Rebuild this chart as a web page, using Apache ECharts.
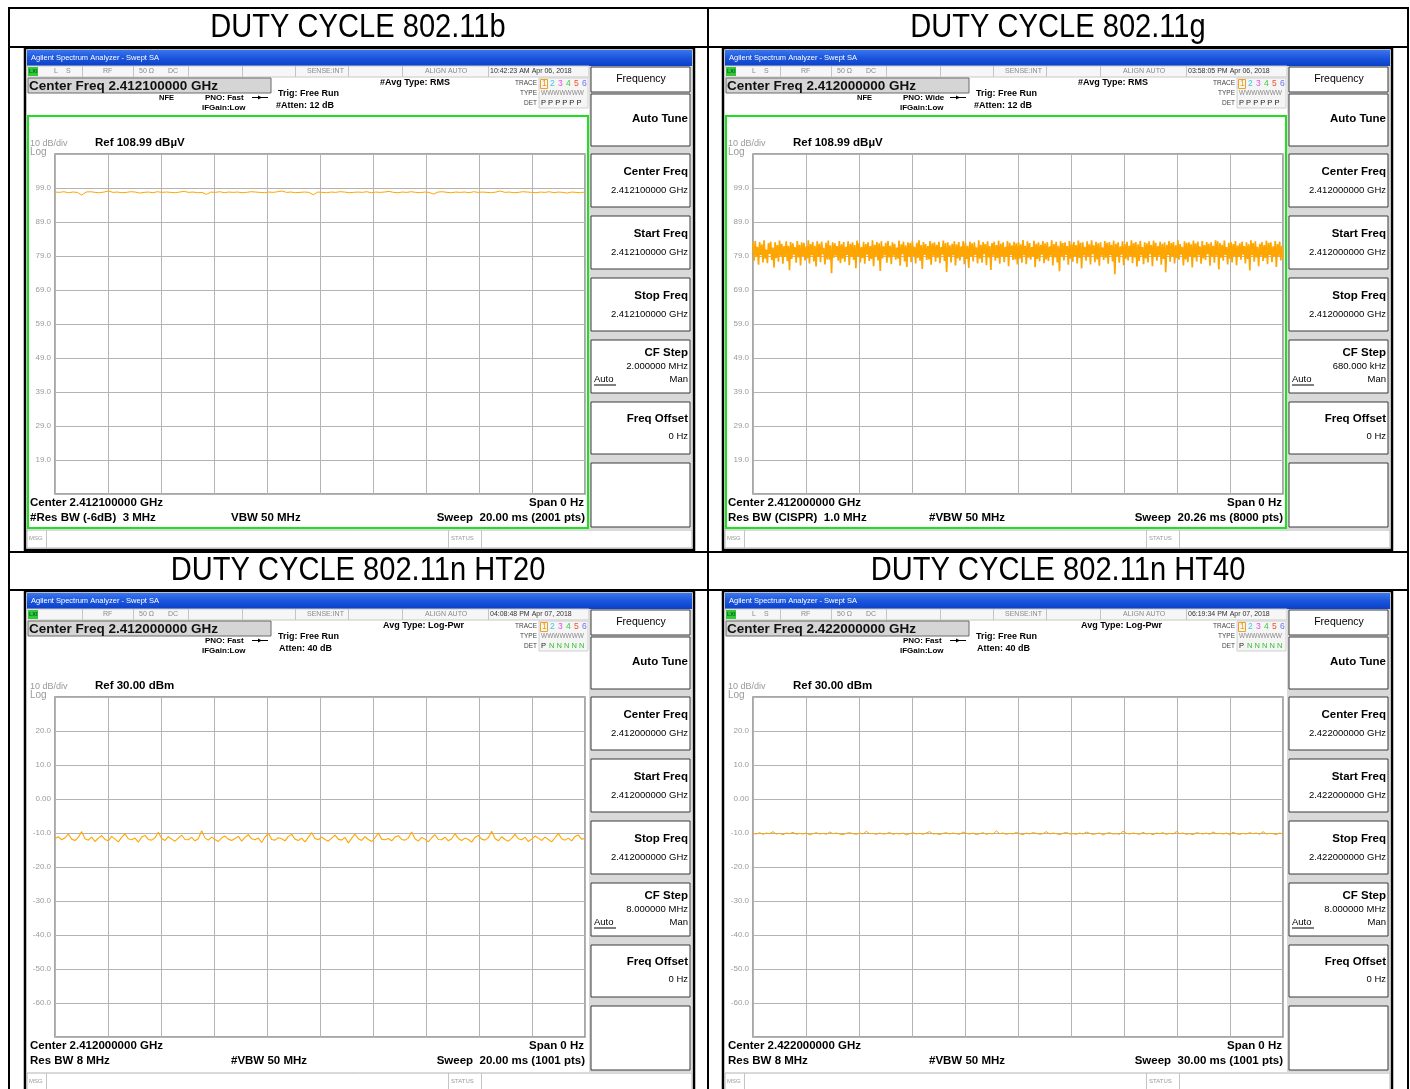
<!DOCTYPE html>
<html>
<head>
<meta charset="utf-8">
<script src="https://cdn.jsdelivr.net/npm/echarts@6/dist/echarts.min.js"></script>
<style>
html,body{margin:0;padding:0;background:#fff}
#c{width:1410px;height:1089px}
</style>
</head>
<body>
<div id="c"></div>
<script>
// ---- captured zero-span traces (dBµV for 11b/11g, dBm for HT20/HT40) ----
const trace11b = [97.8,97.7,97.9,97.6,97.8,97.7,96.9,97.8,97.9,97.7,97.6,97.8,98.1,97.7,97.8,97.6,97.7,97.9,97.8,97.5,
97.7,97.8,97.6,97.9,97.7,97.8,97.7,97.6,97.8,98.0,97.7,97.8,97.6,97.7,97.1,97.8,97.7,97.9,97.6,97.8,
97.7,97.8,97.6,97.7,97.9,97.8,97.7,97.6,97.8,97.7,97.9,98.1,97.7,97.8,97.6,97.7,97.8,97.7,97.0,97.8,
97.7,97.6,97.8,97.7,97.9,97.8,97.6,97.7,97.8,97.7,97.9,97.6,97.8,97.7,97.8,98.0,97.7,97.6,97.8,97.7,
97.9,97.7,97.6,97.8,97.7,97.2,97.8,97.9,97.7,97.6,97.8,97.7,97.8,97.6,97.9,97.7,97.8,97.7,97.6,97.8,
98.1,97.7,97.8,97.6,97.7,97.9,97.8,97.7,97.6,97.8,97.7,97.9,97.6,97.8,97.7,97.5,97.8,97.7,97.6,97.8];

const trace11g = [82.9,77.6,83.4,78.9,81.7,76.4,83.1,79.3,82.4,77.1,83.6,78.2,80.9,76.9,82.8,79.6,83.2,77.8,81.5,75.6,
83.0,78.4,82.2,77.3,83.5,79.1,82.6,76.7,81.9,78.8,83.3,77.5,82.0,74.8,83.1,78.1,82.7,79.4,81.6,77.0,
83.4,78.6,82.3,76.2,83.0,79.0,82.9,77.7,81.8,78.3,83.6,76.8,82.5,79.2,83.1,77.4,82.0,75.9,83.3,78.7,
82.6,77.2,83.2,79.5,81.4,76.5,82.9,78.0,83.5,77.9,82.1,73.9,83.0,78.5,82.7,79.1,81.9,77.6,83.4,76.9,
82.4,78.2,83.1,77.3,81.7,79.3,83.3,76.3,82.6,78.8,83.0,77.8,82.2,75.4,83.5,79.0,82.8,77.1,81.6,78.4,
83.2,76.7,82.5,79.4,83.0,77.5,81.9,78.1,83.6,76.0,82.3,78.9,83.1,77.7,82.7,74.6,83.3,78.3,81.8,79.2,
82.9,77.0,83.4,78.6,82.0,76.6,83.0,79.1,82.6,77.9,81.5,78.2,83.5,76.1,82.4,79.5,83.2,77.4,82.1,75.8,
83.0,78.7,82.8,77.2,83.3,79.0,81.7,76.8,82.9,78.4,83.6,77.6,82.2,75.2,83.1,79.3,82.5,77.8,81.9,78.0,
83.4,76.4,82.7,79.1,83.0,77.3,82.3,78.5,83.2,76.9,81.6,79.4,83.5,77.5,82.8,74.3,83.0,78.8,82.1,77.1,
82.6,79.2,83.3,76.2,82.4,78.3,83.1,77.7,81.8,79.0,83.4,76.6,82.9,78.1,82.0,75.5,83.2,78.9,82.7,77.4,
83.0,79.3,81.5,76.8,83.6,78.2,82.3,77.0,83.1,79.5,82.5,76.3,83.3,78.6,81.9,74.9,82.8,79.1,83.2,77.6,
82.2,78.4,83.5,76.7,82.6,79.0,83.0,77.2,81.7,78.7,83.4,76.0,82.9,79.3,82.1,77.8,83.2,78.0,82.7,76.5,
83.1,78.3,82.4,77.0,83.7,79.2,82.0,76.6,83.3,78.5,82.8,77.9,81.6,79.0,83.5,75.7,82.6,78.1,83.0,77.4,
82.3,79.4,83.4,76.9,82.7,78.0,83.1,77.5,81.8,79.1,83.6,76.2,82.5,78.6,83.2,77.1,82.0,74.5,83.3,78.9,
82.8,77.7,83.0,79.3,81.9,76.4,83.4,78.2,82.6,77.3,83.1,79.0,82.2,76.8,83.5,78.4,82.9,75.3,83.0,79.2,
81.7,77.6,83.3,78.7,82.4,76.5,83.6,79.5,82.1,77.2,83.2,78.0,82.7,76.1,83.0,79.1,81.5,77.8,83.4,78.5,
82.9,76.7,83.1,79.3,82.3,77.4,83.5,73.6,82.6,78.8,83.0,77.0,81.8,79.4,83.3,76.3,82.5,78.2,83.2,77.7,
82.0,79.0,83.6,76.9,82.8,78.6,83.1,75.9,82.4,77.5,83.4,79.2,81.6,76.6,83.0,78.3,82.7,77.1,83.3,79.5,
82.2,76.0,83.5,78.7,82.9,77.6,81.9,79.1,83.2,76.4,82.6,78.1,83.0,74.2,82.3,79.3,83.4,77.3,82.8,78.9,
83.1,76.8,82.1,78.4,83.6,77.9,82.5,79.4,81.7,76.2,83.3,78.0,82.9,77.2,83.0,79.0,82.4,75.6,83.5,78.6,
82.7,77.4,83.2,79.2,81.8,76.7,83.4,78.3,82.2,77.8,83.1,79.5,82.6,76.1,83.0,78.8,82.0,77.0,83.6,79.1,
83.3,75.0,82.8,78.5,82.3,77.6,83.5,79.3,81.6,76.5,82.9,78.2,83.1,77.1,82.5,79.0,83.4,76.3,82.1,78.7,
82.7,77.9,83.2,79.4,81.9,76.8,83.0,78.1,82.4,74.7,83.6,79.2,82.8,77.3,83.3,78.6,81.7,76.0,82.6,79.1,
83.1,77.5,82.2,78.4,83.5,76.6,82.9,79.3,83.0,77.2,81.8,78.9,83.4,75.8,82.5,79.0,83.2,77.7,82.0,78.2];

const traceHT20 = [-11.6,-11.1,-12.0,-11.4,-10.3,-11.8,-12.2,-11.3,-9.6,-11.7,-12.1,-11.2,-12.5,-11.5,-10.8,-11.9,-12.3,-11.0,-11.8,-12.6,
-11.3,-10.2,-11.7,-12.0,-11.5,-12.7,-11.2,-10.7,-11.9,-12.1,-11.4,-9.8,-11.6,-12.2,-11.1,-11.8,-12.4,-11.5,-10.6,-11.9,
-12.0,-11.3,-12.3,-11.7,-9.3,-11.5,-12.1,-11.2,-11.9,-12.5,-11.4,-10.9,-11.8,-12.2,-11.6,-11.0,-12.4,-11.3,-10.5,-11.7,
-12.0,-11.5,-12.8,-11.2,-10.1,-11.9,-12.1,-11.4,-11.7,-12.3,-11.0,-10.4,-11.8,-12.2,-11.5,-12.6,-11.3,-9.9,-11.6,-12.0,
-11.2,-11.9,-12.4,-11.5,-10.6,-11.8,-12.1,-11.3,-12.9,-11.6,-10.3,-11.7,-12.2,-11.1,-11.9,-12.5,-11.4,-10.0,-11.8,-12.0,
-11.6,-12.3,-11.2,-10.8,-11.9,-12.1,-11.5,-9.7,-11.7,-12.4,-11.3,-11.8,-12.6,-11.4,-10.5,-11.9,-12.0,-11.2,-12.3,-11.7,
-10.2,-11.6,-12.2,-11.5,-11.9,-12.7,-11.3,-10.7,-11.8,-12.1,-11.4,-9.5,-11.6,-12.3,-11.1,-11.9,-12.4,-11.6,-10.4,-11.7,
-12.0,-11.3,-12.5,-11.8,-10.9,-11.5,-12.2,-11.2,-11.9,-12.6,-11.4,-10.1,-11.7,-12.1,-11.5,-12.3,-11.0,-10.6,-11.8,-11.6];

const traceHT40 = [-10.1,-10.3,-9.9,-10.4,-10.0,-10.2,-9.6,-10.3,-10.1,-10.5,-10.0,-10.2,-9.8,-10.4,-10.1,-10.3,-10.0,-10.6,-10.2,-9.9,
-10.3,-10.1,-10.4,-9.7,-10.2,-10.0,-10.3,-10.5,-10.1,-9.9,-10.2,-10.4,-10.0,-10.3,-9.5,-10.2,-10.1,-10.4,-10.0,-10.3,
-10.2,-9.8,-10.4,-10.1,-10.3,-10.0,-10.6,-10.2,-9.9,-10.3,-10.1,-10.4,-10.0,-9.6,-10.3,-10.2,-10.5,-10.1,-9.9,-10.3,
-10.0,-10.2,-10.4,-9.7,-10.1,-10.3,-10.0,-10.5,-10.2,-9.9,-10.4,-10.1,-10.3,-9.4,-10.2,-10.0,-10.4,-10.1,-10.3,-9.8,
-10.2,-10.5,-10.0,-10.3,-9.9,-10.1,-10.4,-10.2,-9.6,-10.3,-10.0,-10.2,-10.5,-10.1,-9.8,-10.3,-10.2,-10.4,-10.0,-10.3,
-9.7,-10.1,-10.4,-10.2,-10.0,-10.6,-10.1,-9.9,-10.3,-10.2,-10.4,-9.5,-10.1,-10.3,-10.0,-10.2,-10.4,-9.8,-10.3,-10.1,
-10.5,-10.0,-10.2,-9.9,-10.4,-10.1,-10.3,-9.6,-10.2,-10.0,-10.4,-10.2,-10.5,-9.9,-10.1,-10.3,-10.0,-10.4,-9.7,-10.2,
-10.1,-10.3,-10.0,-10.5,-9.8,-10.2,-10.4,-10.1,-10.3,-9.9,-10.2,-10.0,-10.4,-9.6,-10.3,-10.1,-10.2,-10.5,-10.0,-10.3];

// ---- per-measurement settings ----
const titles       = ['DUTY CYCLE 802.11b', 'DUTY CYCLE 802.11g', 'DUTY CYCLE 802.11n HT20', 'DUTY CYCLE 802.11n HT40'];
const sweepMs      = [20, 20.26, 20, 30];
const refLevel     = [108.99, 108.99, 30, 30];
const bottomLevel  = [8.99, 8.99, -70, -70];
const timestamps   = ['10:42:23 AM Apr 06, 2018', '03:58:05 PM Apr 06, 2018', '04:08:48 PM Apr 07, 2018', '06:19:34 PM Apr 07, 2018'];
const centerFreqs  = ['2.412100000 GHz', '2.412000000 GHz', '2.412000000 GHz', '2.422000000 GHz'];
const pnoModes     = ['PNO: Fast', 'PNO: Wide', 'PNO: Fast', 'PNO: Fast'];
const attenLabels  = ['#Atten: 12 dB', '#Atten: 12 dB', 'Atten: 40 dB', 'Atten: 40 dB'];
const avgTypes     = ['#Avg Type: RMS', '#Avg Type: RMS', 'Avg Type: Log-Pwr', 'Avg Type: Log-Pwr'];
const refLabels    = ['Ref 108.99 dBµV', 'Ref 108.99 dBµV', 'Ref 30.00 dBm', 'Ref 30.00 dBm'];
const cfSteps      = ['2.000000 MHz', '680.000 kHz', '8.000000 MHz', '8.000000 MHz'];
const resBwLabels  = ['#Res BW (-6dB)  3 MHz', 'Res BW (CISPR)  1.0 MHz', 'Res BW 8 MHz', 'Res BW 8 MHz'];
const vbwLabels    = ['VBW 50 MHz', '#VBW 50 MHz', '#VBW 50 MHz', '#VBW 50 MHz'];
const sweepLabels  = ['Sweep  20.00 ms (2001 pts)', 'Sweep  20.26 ms (8000 pts)', 'Sweep  20.00 ms (1001 pts)', 'Sweep  30.00 ms (1001 pts)'];
const showNFE      = [true, true, false, false];
const showLS       = [true, true, false, true];
const detectorN    = [false, false, true, true];
const traces       = [trace11b, trace11g, traceHT20, traceHT40];
const traceWidths  = [1, 1.7, 1.1, 1];

// panel origins (offsets of each analyzer screen)
const origins = [[0, 0], [698, 0], [0, 543], [698, 543]];

const FF = '"Liberation Sans", Arial, sans-serif';
const G = [];
function R(x, y, w, h, style, z) {
  G.push({type: 'rect', silent: true, z: z == null ? 1 : z, shape: {x, y, width: w, height: h}, style});
}
function L(x1, y1, x2, y2, stroke, lw, z) {
  G.push({type: 'line', silent: true, z: z == null ? 1 : z, shape: {x1, y1, x2, y2}, style: {stroke, lineWidth: lw || 1}});
}
function T(x, y, s, o) {
  o = o || {};
  const a = o.a || 'left';
  G.push({type: 'text', silent: true, z: o.z == null ? 30 : o.z, x, y,
    scaleX: o.sx || 1, scaleY: o.sy || 1,
    style: {text: s, fill: o.c || '#000', font: o.f || ('11px ' + FF),
      textAlign: a, align: a, textVerticalAlign: 'middle', verticalAlign: 'middle'}});
}

// ---- table frame and titles ----
R(9, 8, 1399, 1095, {fill: 'none', stroke: '#000', lineWidth: 2}, 40);
L(9, 47, 1408, 47, '#000', 2, 40);
L(9, 552, 1408, 552, '#000', 2, 40);
L(9, 590, 1408, 590, '#000', 2, 40);
L(708, 8, 708, 1089, '#000', 2, 40);
const titleOpt = {a: 'center', f: '30px ' + FF, sx: 0.97, sy: 1.13};
T(358, 28, titles[0], titleOpt);
T(1058, 28, titles[1], titleOpt);
T(358, 571, titles[2], titleOpt);
T(1058, 571, titles[3], titleOpt);

// ---- one analyzer screen ----
function panel(k) {
  const ox = origins[k][0], oy = origins[k][1];
  const X = v => ox + v, Y = v => oy + v;
  const top = k < 2;

  // screen frame
  R(X(25), Y(48), 669, 502, {fill: '#fff', stroke: '#000', lineWidth: 2.5}, -20);
  // title bar
  R(X(27), Y(50), 665, 16, {fill: new echarts.graphic.LinearGradient(0, 0, 0, 1, [
    {offset: 0, color: '#3a76ee'}, {offset: 0.5, color: '#1a55dc'}, {offset: 1, color: '#0c40c8'}])}, -15);
  T(X(31), Y(58), 'Agilent Spectrum Analyzer - Swept SA', {c: '#fff', f: '7.5px ' + FF});

  // status strip
  R(X(27), Y(66), 562, 11, {fill: '#f6f6f6', stroke: '#c8c8c8', lineWidth: 1}, -15);
  [82, 133, 188, 242, 295, 348, 402, 488].forEach(v => L(X(v) + 0.5, Y(66), X(v) + 0.5, Y(77), '#c4c4c4', 1, -14));
  R(X(28), Y(67), 10, 9, {fill: '#34c834'}, -14);
  T(X(29), Y(71.5), 'LXI', {f: 'bold 5.5px ' + FF, c: '#063'});
  const sf = '7px ' + FF, sc = '#8a8a8a';
  if (showLS[k]) { T(X(54), Y(71.5), 'L', {f: sf, c: sc}); T(X(66), Y(71.5), 'S', {f: sf, c: sc}); }
  T(X(103), Y(71.5), 'RF', {f: sf, c: sc});
  T(X(139), Y(71.5), '50 Ω', {f: sf, c: sc});
  T(X(168), Y(71.5), 'DC', {f: sf, c: sc});
  T(X(307), Y(71.5), 'SENSE:INT', {f: sf, c: sc});
  T(X(425), Y(71.5), 'ALIGN AUTO', {f: sf, c: sc});
  T(X(490), Y(71.5), timestamps[k], {f: sf, c: '#333'});

  // center frequency readout
  R(X(28), Y(78), 243, 15, {fill: '#d5d5d5', stroke: '#6a6a6a', lineWidth: 1}, -14);
  T(X(29), Y(86), 'Center Freq ' + centerFreqs[k], {f: 'bold 13.5px ' + FF, c: '#111'});
  if (showNFE[k]) T(X(159), Y(97.5), 'NFE', {f: 'bold 7.5px ' + FF});
  T(X(205), Y(97.5), pnoModes[k], {f: 'bold 8px ' + FF});
  L(X(252), Y(97.5), X(268), Y(97.5), '#000', 1, 20);
  G.push({type: 'polygon', silent: true, z: 20, shape: {points: [[X(258), Y(95.5)], [X(262), Y(97.5)], [X(258), Y(99.5)]]}, style: {fill: '#000'}});
  T(X(202), Y(107.5), 'IFGain:Low', {f: 'bold 8px ' + FF});
  T(X(278), Y(94), 'Trig: Free Run', {f: 'bold 9px ' + FF});
  T(X(top ? 276 : 279), Y(106), attenLabels[k], {f: 'bold 9px ' + FF});
  T(X(top ? 380 : 383), Y(83), avgTypes[k], {f: 'bold 9px ' + FF});

  // trace / detector block
  const tf = '6.5px ' + FF;
  T(X(537), Y(83), 'TRACE', {a: 'right', f: tf, c: '#444'});
  T(X(537), Y(93), 'TYPE', {a: 'right', f: tf, c: '#444'});
  T(X(537), Y(103), 'DET', {a: 'right', f: tf, c: '#444'});
  R(X(539), Y(78), 49, 30, {fill: '#f5f5f5', stroke: '#d0d0d0', lineWidth: 1}, -13);
  R(X(540.5), Y(79.5), 7, 9, {fill: 'none', stroke: '#f0a020', lineWidth: 1}, 20);
  const trColors = ['#f09a10', '#3cc8e8', '#e050e0', '#40c840', '#f05030', '#7070f0'];
  trColors.forEach((c, i) => T(X(542 + i * 8), Y(84), String(i + 1), {f: '8.5px ' + FF, c}));
  T(X(541), Y(93), 'WWWWWWW', {f: '6.5px ' + FF, c: '#888'});
  if (detectorN[k]) {
    T(X(541), Y(102.5), 'P', {f: '7.5px ' + FF, c: '#222'});
    T(X(549), Y(102.5), 'N N N N N', {f: '7.5px ' + FF, c: '#30c030'});
  } else {
    T(X(541), Y(102.5), 'P P P P P P', {f: '7.5px ' + FF, c: '#222'});
  }

  // softkey column
  R(X(589), Y(66), 103, 463, {fill: '#d9d9d9'}, -15);
  [[67, 25], [94, 52], [154, 53], [216, 53], [278, 53], [340, 53], [402, 52], [463, 64]].forEach(b =>
    R(X(591), Y(b[0]), 99, b[1], {fill: '#fff', stroke: '#3a3a3a', lineWidth: 1}, -14));
  const kb = 'bold 11.5px ' + FF, kv = '9.5px ' + FF;
  T(X(641), Y(79), 'Frequency', {a: 'center', f: '10.5px ' + FF});
  T(X(688), Y(119), 'Auto Tune', {a: 'right', f: kb});
  T(X(688), Y(172), 'Center Freq', {a: 'right', f: kb});
  T(X(688), Y(190), centerFreqs[k], {a: 'right', f: kv});
  T(X(688), Y(234), 'Start Freq', {a: 'right', f: kb});
  T(X(688), Y(252), centerFreqs[k], {a: 'right', f: kv});
  T(X(688), Y(296), 'Stop Freq', {a: 'right', f: kb});
  T(X(688), Y(314), centerFreqs[k], {a: 'right', f: kv});
  T(X(688), Y(353), 'CF Step', {a: 'right', f: kb});
  T(X(688), Y(366), cfSteps[k], {a: 'right', f: kv});
  T(X(594), Y(379), 'Auto', {f: kv});
  L(X(594), Y(385), X(616), Y(385), '#000', 1, 20);
  T(X(688), Y(379), 'Man', {a: 'right', f: kv});
  T(X(688), Y(419), 'Freq Offset', {a: 'right', f: kb});
  T(X(688), Y(436), '0 Hz', {a: 'right', f: kv});

  // scale annotations
  T(X(30), Y(144), '10 dB/div', {f: '9px ' + FF, c: '#9a9a9a'});
  T(X(30), Y(152.5), 'Log', {f: '10px ' + FF, c: '#9a9a9a'});
  T(X(95), Y(143), refLabels[k], {f: 'bold 11.5px ' + FF});

  // active-window outline (top screens)
  if (top) R(X(28), Y(116), 560, 412, {fill: 'none', stroke: '#1fe01f', lineWidth: 2}, 25);

  // bottom annotation
  const bf = 'bold 11.5px ' + FF;
  T(X(30), Y(503), 'Center ' + centerFreqs[k], {f: bf});
  T(X(584), Y(503), 'Span 0 Hz', {a: 'right', f: bf});
  T(X(30), Y(518), resBwLabels[k], {f: bf});
  T(X(231), Y(518), vbwLabels[k], {f: bf});
  T(X(585), Y(518), sweepLabels[k], {a: 'right', f: bf});

  // message strip
  R(X(27), Y(530), 665, 18, {fill: '#fff', stroke: '#b4b4b4', lineWidth: 1}, -14);
  [46, 448, 481].forEach(v => L(X(v) + 0.5, Y(530), X(v) + 0.5, Y(548), '#c4c4c4', 1, -13));
  T(X(29), Y(538), 'MSG', {f: '6px ' + FF, c: '#999'});
  T(X(451), Y(538), 'STATUS', {f: '6px ' + FF, c: '#999'});
}
for (let k = 0; k < 4; k++) panel(k);

// ---- plot areas ----
const grids = origins.map(o => ({left: o[0] + 55, top: o[1] + 154, width: 530, height: 340,
  show: true, backgroundColor: '#fff', borderColor: '#8a8a8a', borderWidth: 1.5}));
const yFmt = v => (Math.abs(v) < 1e-6 ? '0.00' : v.toFixed(1));

const option = {
  animation: false,
  graphic: {elements: G},
  grid: grids,
  xAxis: traces.map((t, i) => ({
    gridIndex: i, type: 'value', min: 0, max: sweepMs[i], interval: sweepMs[i] / 10,
    axisLine: {show: false}, axisTick: {show: false}, axisLabel: {show: false},
    splitLine: {show: true, lineStyle: {color: '#b4b4b4', width: 1}}
  })),
  yAxis: traces.map((t, i) => ({
    gridIndex: i, type: 'value', min: bottomLevel[i], max: refLevel[i], interval: 10,
    axisLine: {show: false}, axisTick: {show: false},
    splitLine: {show: true, lineStyle: {color: '#b4b4b4', width: 1}},
    axisLabel: {showMinLabel: false, showMaxLabel: false, color: '#9a9a9a', fontSize: 8,
      fontFamily: 'Liberation Sans', margin: 4, formatter: yFmt}
  })),
  series: traces.map((t, i) => ({
    type: 'line', xAxisIndex: i, yAxisIndex: i, symbol: 'none', silent: true, z: 5,
    lineStyle: {color: '#ffa500', width: traceWidths[i]},
    data: t.map((v, j) => [j * sweepMs[i] / (t.length - 1), v])
  }))
};

const chart = echarts.init(document.getElementById('c'), null, {renderer: 'canvas'});
chart.setOption(option);
</script>
</body>
</html>
